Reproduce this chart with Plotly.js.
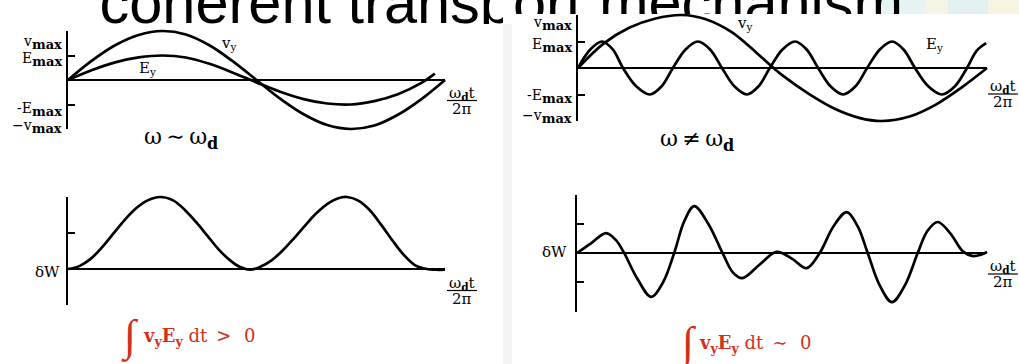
<!DOCTYPE html>
<html>
<head>
<meta charset="utf-8">
<script src="https://cdn.plot.ly/plotly-3.0.1.min.js"></script>
<style>
  html, body { margin: 0; padding: 0; background: #fff; }
  #chart { width: 1019px; height: 364px; }
</style>
</head>
<body>
<div id="chart"></div>
<script>
// ---- data: x is ω_d t / 2π, amplitudes are in units of the bracket ticks ----

// ω ~ ω_d : velocity and field
const tlX  = [0, 0.0625, 0.125, 0.1875, 0.25, 0.3125, 0.375, 0.4375, 0.5, 0.5625, 0.625, 0.6875, 0.75, 0.8125, 0.875, 0.9375, 1];
const tlVy = [0, 0.39, 0.71, 0.92, 1.0, 0.93, 0.71, 0.38, 0.0, -0.38, -0.70, -0.92, -1.0, -0.93, -0.71, -0.39, 0];
const tlEyX = [0, 0.0625, 0.125, 0.1875, 0.25, 0.3125, 0.375, 0.4375, 0.5, 0.5625, 0.625, 0.6875, 0.75, 0.8125, 0.875, 0.9375, 0.973];
const tlEy  = [0, 0.20, 0.36, 0.46, 0.50, 0.46, 0.33, 0.15, -0.05, -0.24, -0.39, -0.48, -0.50, -0.43, -0.29, -0.06, 0.13];

// ω ~ ω_d : work done on the particle
const blX = [0, 0.03, 0.06, 0.09, 0.12, 0.15, 0.18, 0.21, 0.244, 0.28, 0.31, 0.34, 0.37, 0.40, 0.43, 0.455, 0.483,
             0.51, 0.54, 0.57, 0.60, 0.63, 0.66, 0.69, 0.715, 0.74, 0.77, 0.80, 0.83, 0.86, 0.89, 0.92, 0.952, 0.975, 1.0];
const blW = [0, 0.04, 0.14, 0.30, 0.49, 0.68, 0.84, 0.95, 1.0, 0.95, 0.82, 0.65, 0.46, 0.27, 0.12, 0.03, -0.01,
             0.03, 0.12, 0.26, 0.43, 0.61, 0.78, 0.91, 0.98, 1.0, 0.95, 0.82, 0.62, 0.40, 0.20, 0.055, 0, -0.01, -0.01];

// ω ≠ ω_d : velocity and field
const trVyX = [0, 0.0625, 0.125, 0.1875, 0.254, 0.3125, 0.375, 0.4375, 0.478, 0.5, 0.5625, 0.625, 0.6875, 0.743, 0.8125, 0.875, 0.9375, 1];
const trVy  = [0, 0.46, 0.76, 0.93, 1.0, 0.92, 0.68, 0.28, 0, -0.14, -0.48, -0.76, -0.94, -1.0, -0.91, -0.69, -0.37, 0];
const trEyX = [0, 0.030, 0.059, 0.085, 0.110, 0.143, 0.176, 0.204, 0.232, 0.263, 0.293, 0.323, 0.352, 0.383, 0.413, 0.441, 0.469,
               0.500, 0.531, 0.559, 0.587, 0.618, 0.648, 0.678, 0.707, 0.738, 0.768, 0.796, 0.824, 0.857, 0.890, 0.921, 0.951, 0.975, 0.998];
const trEy  = [0, 0.35, 0.50, 0.35, 0, -0.35, -0.50, -0.35, 0, 0.35, 0.50, 0.35, 0, -0.35, -0.50, -0.35, 0,
               0.35, 0.50, 0.35, 0, -0.35, -0.50, -0.35, 0, 0.35, 0.50, 0.35, 0, -0.35, -0.50, -0.35, 0, 0.33, 0.47];

// ω ≠ ω_d : work done on the particle
const brX = [0, 0.035, 0.071, 0.095, 0.115, 0.148, 0.181, 0.21, 0.237, 0.262, 0.286, 0.32, 0.355, 0.38, 0.403, 0.445, 0.487,
             0.525, 0.560, 0.592, 0.625, 0.658, 0.685, 0.709, 0.738, 0.768, 0.80, 0.831, 0.855, 0.880, 0.91, 0.941, 0.963, 0.985, 1.0];
const brW = [0, 0.17, 0.34, 0.22, 0, -0.45, -0.75, -0.5, 0, 0.55, 0.80, 0.5, 0, -0.33, -0.43, -0.2, 0.02,
             -0.10, -0.26, 0, 0.45, 0.70, 0.45, 0, -0.55, -0.84, -0.55, 0, 0.38, 0.53, 0.34, 0.03, -0.05, -0.03, 0.02];

// tick positions on the brackets and their labels
const ampTicks  = [-1, -0.5, 0.5, 1];
const workTicksL = [-0.5, 0.5, 1];
const workTicksR = [-1, -0.5, 0.5, 1];
const SUBMAX = '<sub><span style="font-size:13px"><b>max</b></span></sub>';
const ampLabels = ['v' + SUBMAX, 'E' + SUBMAX, '-E' + SUBMAX, '\u2212v' + SUBMAX];

// texts
const titleText = 'coherent transport mechanism';
const curveNames = ['v<sub>y</sub>', 'E<sub>y</sub>'];
const SUBD = '<sub><span style="font-size:16px"><b>d</b></span></sub>';
const regimeLabels = ['\u03c9\u2009\u223c\u2009\u03c9' + SUBD, '\u03c9\u2009\u2260\u2009\u03c9' + SUBD];
const fracTop = '\u03c9<sub><b>d</b></sub>t';
const fracBottom = '2\u03c0';
const workName = '\u03b4W';
const integralSign = '\u222b';
const integralTexts = ['<b>v<sub>y</sub>E<sub>y</sub></b> dt\u2002>\u2002\u20090',
                       '<b>v<sub>y</sub>E<sub>y</sub></b> dt\u2002\u223c\u2002\u20090'];

// ---- page geometry ----
const W = 1019, H = 364;
const SERIF = 'DejaVu Serif, Liberation Serif, serif';
const SANS = 'Liberation Sans';
const RED = '#d3301c';
const px = v => v / W;
const py = v => 1 - v / H;

// heading: big sans text running under the two panels
const TITLE_SIZE = 59.5, TITLE_X = 99.5, TITLE_Y = 22.7 - 0.25 * 59.5;
const SPLIT = 15;                       // the heading continues past this letter on the right
const RIGHT_STRIP = 14;                 // height of the heading strip visible above the right panel
const ctx = document.createElement('canvas').getContext('2d');
ctx.font = TITLE_SIZE + 'px "' + SANS + '"';
const splitX = TITLE_X + ctx.measureText(titleText.slice(0, SPLIT)).width;

// each panel: pixel origin, pixels per unit, and visible value extent
const panels = [
  { ox: 68,  oy: 80,  sx: 377, sy: 49,   xr: [0, 1], yr: [-1, 1],   ticks: ampTicks },
  { ox: 68,  oy: 269, sx: 377, sy: 72,   xr: [0, 1], yr: [-0.5, 1], ticks: workTicksL },
  { ox: 578, oy: 68,  sx: 409, sy: 53,   xr: [0, 1], yr: [-1, 1],   ticks: ampTicks },
  { ox: 577, oy: 253, sx: 410, sy: 58.5, xr: [0, 1], yr: [-1, 1],   ticks: workTicksR }
];
const PAD = 8;

const layout = {
  width: W, height: H,
  margin: { l: 0, r: 0, t: 0, b: 0, pad: 0 },
  paper_bgcolor: '#ffffff',
  plot_bgcolor: 'rgba(0,0,0,0)',
  showlegend: false,
  hovermode: false,
  // heading strips: above the left panel, and the thinner one above the right panel
  xaxis:  { domain: [0, px(503)], range: [0, 503], visible: false, fixedrange: true },
  yaxis:  { domain: [py(24), 1], range: [24, 0], visible: false, fixedrange: true },
  xaxis2: { domain: [px(503), 1], range: [503, W], visible: false, fixedrange: true, anchor: 'y2' },
  yaxis2: { domain: [py(RIGHT_STRIP), 1], range: [RIGHT_STRIP, 0], visible: false, fixedrange: true, anchor: 'x2' },
  shapes: [],
  annotations: []
};

const traces = [];
const titleFont = { family: SANS + ', Arial, sans-serif', size: TITLE_SIZE, color: '#000' };
traces.push({
  type: 'scatter', mode: 'text', x: [TITLE_X], y: [TITLE_Y], text: [titleText.slice(0, SPLIT + 1)],
  textposition: 'middle right', cliponaxis: true, textfont: titleFont,
  xaxis: 'x', yaxis: 'y', hoverinfo: 'skip'
});
traces.push({
  type: 'scatter', mode: 'text', x: [splitX], y: [TITLE_Y], text: [titleText.slice(SPLIT)],
  textposition: 'middle right', cliponaxis: true, textfont: titleFont,
  xaxis: 'x2', yaxis: 'y2', hoverinfo: 'skip'
});

panels.forEach((p, i) => {
  const f = i + 3, c = i + 7;
  const xL = p.ox + p.sx * p.xr[0], xR = p.ox + p.sx * p.xr[1];
  const yT = p.oy - p.sy * p.yr[1], yB = p.oy - p.sy * p.yr[0];
  // bracket axis + zero line
  layout['xaxis' + f] = {
    domain: [px(xL), px(xR)], range: p.xr, anchor: 'y' + f,
    showline: false, showgrid: false, zeroline: false, ticks: '', showticklabels: false, fixedrange: true
  };
  layout['yaxis' + f] = {
    domain: [py(yB), py(yT)], range: [p.yr[0] - 1e-6, p.yr[1] + 1e-6], anchor: 'x' + f,
    showline: true, linecolor: '#000', linewidth: 2,
    ticks: 'inside', ticklen: 7, tickwidth: 2, tickcolor: '#000',
    tickmode: 'array', tickvals: p.ticks, showticklabels: false,
    showgrid: false, zeroline: true, zerolinecolor: '#000', zerolinewidth: 1.4, fixedrange: true
  };
  traces.push({ type: 'scatter', x: [], y: [], xaxis: 'x' + f, yaxis: 'y' + f, hoverinfo: 'skip' });
  // same scale, a few pixels larger so the crests are not clipped
  layout['xaxis' + c] = {
    domain: [px(xL - PAD), px(xR + PAD)], range: [p.xr[0] - PAD / p.sx, p.xr[1] + PAD / p.sx],
    anchor: 'y' + c, visible: false, fixedrange: true
  };
  layout['yaxis' + c] = {
    domain: [py(yB + PAD), py(yT - PAD)], range: [p.yr[0] - PAD / p.sy, p.yr[1] + PAD / p.sy],
    anchor: 'x' + c, visible: false, fixedrange: true
  };
});

function curve(x, y, k) {
  return {
    type: 'scatter', mode: 'lines', x: x, y: y,
    line: { color: '#000', width: 2.7, shape: 'spline', smoothing: 1 },
    xaxis: 'x' + k, yaxis: 'y' + k, hoverinfo: 'skip'
  };
}
traces.push(curve(tlX, tlVy, 7));
traces.push(curve(tlEyX, tlEy, 7));
traces.push(curve(blX, blW, 8));
traces.push(curve(trVyX, trVy, 9));
traces.push(curve(trEyX, trEy, 9));
traces.push(curve(brX, brW, 10));

// ---- text ----
function label(text, x, y, opts) {
  return Object.assign({
    text: text, x: px(x), y: py(y), xref: 'paper', yref: 'paper',
    showarrow: false, xanchor: 'center', yanchor: 'middle', borderpad: 0,
    font: { family: SERIF, size: 14, color: '#000' }
  }, opts || {});
}
const ann = layout.annotations;

// bracket labels
[[42, 60, 109, 126, 63], [24, 45, 97, 117, 573]].forEach(row => {
  for (let j = 0; j < 4; j++) ann.push(label(ampLabels[j], row[4], row[j], { xanchor: 'right' }));
});
ann.push(label(workName, 61, 272, { xanchor: 'right', font: { family: SERIF, size: 15, color: '#000' } }));
ann.push(label(workName, 568, 252, { xanchor: 'right', font: { family: SERIF, size: 15, color: '#000' } }));

// curve names
const nameFont = { family: SERIF, size: 15, color: '#000' };
ann.push(label(curveNames[0], 228, 43, { font: nameFont }));
ann.push(label(curveNames[1], 147, 68, { font: nameFont }));
ann.push(label(curveNames[0], 744, 24, { font: nameFont }));
ann.push(label(curveNames[1], 934, 44, { font: nameFont }));

// regime labels
ann.push(label(regimeLabels[0], 181, 138, { font: { family: SERIF, size: 22, color: '#000' } }));
ann.push(label(regimeLabels[1], 697, 140, { font: { family: SERIF, size: 22, color: '#000' } }));

// ω_d t / 2π axis labels
[[462, 100.5], [462, 290.5], [1003, 94], [1003, 274]].forEach(([cx, cy]) => {
  ann.push(label(fracTop, cx, cy - 7.5, { font: { family: SERIF, size: 15, color: '#000' } }));
  ann.push(label(fracBottom, cx, cy + 8, { font: { family: SERIF, size: 15, color: '#000' } }));
  layout.shapes.push({
    type: 'line', xref: 'paper', yref: 'paper', x0: px(cx - 15), x1: px(cx + 15), y0: py(cy), y1: py(cy),
    line: { color: '#000', width: 1.2 }
  });
});

// energy-transfer integrals
ann.push(label(integralSign, 130, 336, { font: { family: 'Liberation Serif, serif', size: 44, color: RED } }));
ann.push(label(integralTexts[0], 142, 337, { xanchor: 'left', font: { family: SERIF, size: 18, color: RED } }));
ann.push(label(integralSign, 688, 343, { font: { family: 'Liberation Serif, serif', size: 44, color: RED } }));
ann.push(label(integralTexts[1], 698, 344, { xanchor: 'left', font: { family: SERIF, size: 18, color: RED } }));

// slide background details: edge of the left panel and the pale banner at top right
layout.shapes.push({ type: 'rect', xref: 'paper', yref: 'paper', layer: 'below',
  x0: px(503), x1: px(512), y0: py(364), y1: py(24), fillcolor: '#f4f4f4', line: { width: 0 } });
[[880, 925, '#e7f3f4'], [925, 948, '#f6f4e4'], [948, 988, '#e4f1f3'], [988, 1019, '#f7f5e2']].forEach(([a, b, col]) => {
  layout.shapes.push({ type: 'rect', xref: 'paper', yref: 'paper', layer: 'below',
    x0: px(a), x1: px(b), y0: py(14), y1: py(0), fillcolor: col, line: { width: 0 } });
});

Plotly.newPlot('chart', traces, layout, { staticPlot: true, displayModeBar: false });
</script>
</body>
</html>
